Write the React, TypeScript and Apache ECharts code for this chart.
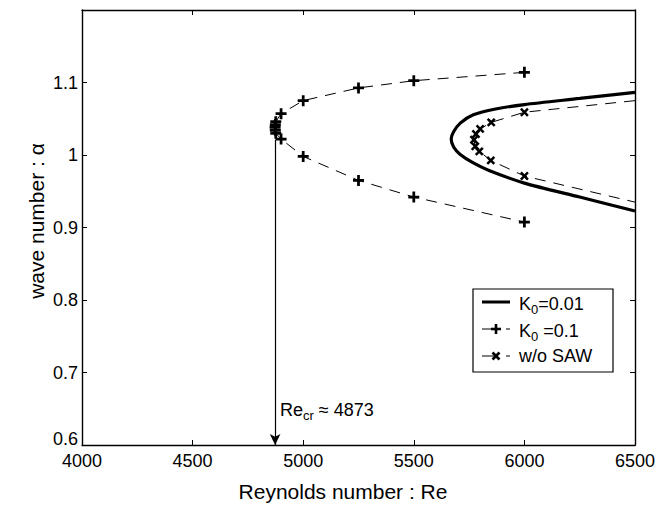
import React, { useEffect, useRef } from "react";
import * as echarts from "echarts";

// K0 = 0.01 (solid, thick)
const reK001 = [6500, 6250, 6000, 5870, 5769, 5710, 5680, 5669, 5680, 5710, 5769, 5840, 6000, 6250, 6500];
const alphaK001 = [1.0865, 1.078, 1.0696, 1.0635, 1.0555, 1.044, 1.032, 1.022, 1.011, 1.0007, 0.989, 0.9787, 0.9612, 0.942, 0.9227];

// K0 = 0.1 (dashed with + markers)
const reK01 = [6000, 5500, 5250, 5000, 4900, 4876, 4874, 4873, 4874, 4876, 4900, 5000, 5250, 5500, 6000];
const alphaK01 = [1.114, 1.1025, 1.0925, 1.075, 1.057, 1.046, 1.042, 1.038, 1.034, 1.030, 1.022, 0.998, 0.965, 0.942, 0.9075];

// w/o SAW (dashed with x markers); end points at 6500 carry no marker
const reNoSaw = [6500, 6000, 5850, 5800, 5781, 5772, 5778, 5796, 5848, 6000, 6500];
const alphaNoSaw = [1.075, 1.059, 1.045, 1.036, 1.029, 1.021, 1.012, 1.005, 0.9925, 0.971, 0.935];
const noSawMarked = [false, true, true, true, true, true, true, true, true, true, false];

const reCritical = 4873;
const alphaCriticalStart = 1.021;

const xMin = 4000, xMax = 6500, xStep = 500;
const yMin = 0.6, yMax = 1.2, yStep = 0.1;

const FONT = "Liberation Sans, Arial, Helvetica, sans-serif";
const PLUS = "path://M-1,-4L1,-4L1,-1L4,-1L4,1L1,1L1,4L-1,4L-1,1L-4,1L-4,-1L-1,-1Z";

function legendMarker(kind: "plus" | "cross", cx: number, cy: number) {
  const lines =
    kind === "plus"
      ? [
          [cx - 5, cy, cx + 5, cy],
          [cx, cy - 5, cx, cy + 5],
        ]
      : [
          [cx - 3.5, cy - 3.5, cx + 3.5, cy + 3.5],
          [cx - 3.5, cy + 3.5, cx + 3.5, cy - 3.5],
        ];
  return lines.map((l) => ({
    type: "line",
    shape: { x1: l[0], y1: l[1], x2: l[2], y2: l[3] },
    style: { stroke: "#000", lineWidth: 2.6 },
  }));
}

export default function App() {
  const ref = useRef<HTMLDivElement>(null);
  useEffect(() => {
    if (!ref.current) return;
    const chart = echarts.init(ref.current, null, { renderer: "svg" });

    const gridLeft = 82, gridTop = 10, gridW = 553, gridH = 435;
    const axisCommon = {
      axisLine: { show: true, lineStyle: { color: "#000", width: 1.4 } },
      axisTick: { show: true, inside: true, length: 5, lineStyle: { color: "#000", width: 1 } },
      splitLine: { show: false },
    };

    const rows = [302, 329, 356];
    const lx1 = 482, lx2 = 510, lxm = 496, ltx = 519;
    const rich = {
      m: { fontSize: 18, fontFamily: FONT, color: "#000", lineHeight: 24, verticalAlign: "middle" },
      s: { fontSize: 13, fontFamily: FONT, color: "#000", lineHeight: 13, verticalAlign: "bottom" },
    };

    chart.setOption({
      animation: false,
      backgroundColor: "#fff",
      textStyle: { fontFamily: FONT },
      grid: { left: gridLeft, top: gridTop, width: gridW, height: gridH, containLabel: false },
      xAxis: [
        {
          type: "value",
          min: xMin,
          max: xMax,
          interval: xStep,
          position: "bottom",
          ...axisCommon,
          axisLabel: {
            color: "#000",
            fontSize: 18,
            fontFamily: FONT,
            margin: 7,
            showMinLabel: true,
            showMaxLabel: true,
            formatter: (v: number) => String(v),
          },
        },
        {
          type: "value",
          min: xMin,
          max: xMax,
          interval: xStep,
          position: "top",
          ...axisCommon,
          axisLabel: { show: false },
        },
      ],
      yAxis: [
        {
          type: "value",
          min: yMin,
          max: yMax,
          interval: yStep,
          position: "left",
          ...axisCommon,
          axisLabel: {
            color: "#000",
            fontSize: 18,
            fontFamily: FONT,
            margin: 4,
            formatter: (v: number) => {
              if (v > 1.15) return "";
              const s = String(+v.toFixed(1));
              return v < 0.65 ? "{low|" + s + "}" : s;
            },
            rich: {
              low: { fontSize: 18, fontFamily: FONT, color: "#000", padding: [0, 0, 12, 0] },
            },
          },
        },
        {
          type: "value",
          min: yMin,
          max: yMax,
          interval: yStep,
          position: "right",
          ...axisCommon,
          axisLabel: { show: false },
        },
      ],
      series: [
        {
          name: "K0=0.01",
          type: "line",
          data: reK001.map((x, i) => [x, alphaK001[i]]),
          showSymbol: false,
          smooth: 0.25,
          lineStyle: { color: "#000", width: 3.2 },
          silent: true,
        },
        {
          name: "K0=0.1",
          type: "line",
          data: reK01.map((x, i) => [x, alphaK01[i]]),
          symbol: PLUS,
          symbolSize: 11,
          itemStyle: { color: "#000" },
          lineStyle: { color: "#000", width: 1, type: [11, 8] },
          silent: true,
          markLine: {
            silent: true,
            symbol: ["none", "arrow"],
            symbolSize: [8, 11],
            label: { show: false },
            lineStyle: { color: "#000", width: 1.2, type: "solid" },
            data: [[{ coord: [reCritical, alphaCriticalStart] }, { coord: [reCritical, yMin] }]],
          },
        },
        {
          name: "w/o SAW",
          type: "line",
          data: reNoSaw.map((x, i) =>
            noSawMarked[i] ? { value: [x, alphaNoSaw[i]] } : { value: [x, alphaNoSaw[i]], symbol: "none" }
          ),
          symbol: PLUS,
          symbolSize: 10,
          symbolRotate: 45,
          itemStyle: { color: "#000" },
          lineStyle: { color: "#000", width: 1, type: [11, 8] },
          silent: true,
        },
      ],
      graphic: [
        {
          type: "text",
          x: 343,
          y: 491,
          style: {
            text: "Reynolds number : Re",
            fontSize: 21,
            fontFamily: FONT,
            fill: "#000",
            align: "center",
            verticalAlign: "middle",
          },
        },
        {
          type: "text",
          x: 36,
          y: 221,
          rotation: Math.PI / 2,
          style: {
            text: "wave number : α",
            fontSize: 21,
            fontFamily: FONT,
            fill: "#000",
            align: "center",
            verticalAlign: "middle",
          },
        },
        {
          type: "text",
          x: 280,
          y: 410,
          style: {
            text: "{m|Re}{s|cr}{m| ≈ 4873}",
            rich,
            align: "left",
            verticalAlign: "middle",
          },
        },
        {
          type: "group",
          x: 0,
          y: 0,
          z: 100,
          children: [
            {
              type: "rect",
              z: 100,
              shape: { x: 473, y: 289, width: 140, height: 83 },
              style: { fill: "#fff", stroke: "#000", lineWidth: 1.2 },
            },
            ...[
              {
                type: "line",
                shape: { x1: lx1, y1: rows[0], x2: lx2, y2: rows[0] },
                style: { stroke: "#000", lineWidth: 3 },
              },
              {
                type: "line",
                shape: { x1: lx1, y1: rows[1], x2: lx2, y2: rows[1] },
                style: { stroke: "#000", lineWidth: 1, lineDash: [12, 12] },
              },
              ...legendMarker("plus", lxm, rows[1]),
              {
                type: "line",
                shape: { x1: lx1, y1: rows[2], x2: lx2, y2: rows[2] },
                style: { stroke: "#000", lineWidth: 1, lineDash: [12, 12] },
              },
              ...legendMarker("cross", lxm, rows[2]),
              {
                type: "text",
                x: ltx,
                y: rows[0] + 2,
                style: { text: "{m|K}{s|0}{m|=0.01}", rich, align: "left", verticalAlign: "middle" },
              },
              {
                type: "text",
                x: ltx,
                y: rows[1] + 2,
                style: { text: "{m|K}{s|0}{m| =0.1}", rich, align: "left", verticalAlign: "middle" },
              },
              {
                type: "text",
                x: ltx,
                y: rows[2],
                style: {
                  text: "w/o SAW",
                  fontSize: 18,
                  fontFamily: FONT,
                  fill: "#000",
                  align: "left",
                  verticalAlign: "middle",
                },
              },
            ].map((c) => ({ ...c, z: 101 })),
          ],
        },
      ],
    });
    return () => chart.dispose();
  }, []);

  return (
    <div
      ref={ref}
      style={{ position: "fixed", left: 0, top: 0, width: 669, height: 505, background: "#fff" }}
    />
  );
}
